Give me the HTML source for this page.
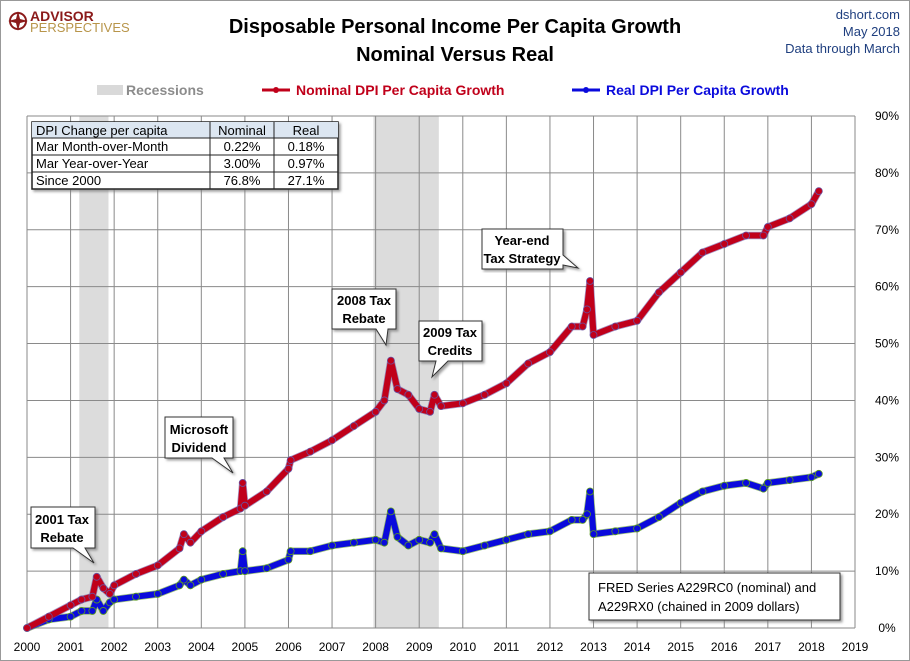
<!DOCTYPE html>
<html><head><meta charset="utf-8"><style>
body{margin:0;background:#fff;font-family:"Liberation Sans",sans-serif}
#wrap{position:relative;width:908px;height:659px;border:1px solid #999;overflow:hidden}
svg text{font-family:"Liberation Sans",sans-serif}
</style></head><body>
<div id="wrap">
<svg id="chart" width="908" height="659"></svg>
</div>
<script>
const years=[2000,2001,2002,2003,2004,2005,2006,2007,2008,2009,2010,2011,2012,2013,2014,2015,2016,2017,2018,2019];
const yTicks=[0,10,20,30,40,50,60,70,80,90];
const recessions=[[2001.2,2001.87],[2007.95,2009.45]];
const dates=[2000,2000.5,2001,2001.25,2001.5,2001.6,2001.75,2001.9,2002,2002.5,2003,2003.5,2003.6,2003.75,2004,2004.5,2004.9,2004.95,2005,2005.5,2006,2006.05,2006.5,2007,2007.5,2008,2008.2,2008.35,2008.5,2008.75,2009,2009.25,2009.35,2009.5,2010,2010.5,2011,2011.5,2012,2012.5,2012.75,2012.85,2012.92,2013,2013.5,2014,2014.5,2015,2015.5,2016,2016.5,2016.9,2017,2017.5,2018,2018.17];
const nominal=[0,2,4,5,5.5,9,7,6,7.5,9.5,11,14,16.5,15,17,19.5,21,25.5,21.5,24,28,29.5,31,33,35.5,38,40,47,42,41,38.5,38,41,39,39.5,41,43,46.5,48.5,53,53,56,61,51.5,53,54,59,62.5,66,67.5,69,69,70.5,72,74.5,76.8];
const real=[0,1.5,2,3,3,5,3,4.5,5,5.5,6,7.5,8.5,7.5,8.5,9.5,10,13.5,10,10.5,12,13.5,13.5,14.5,15,15.5,15,20.5,16,14.5,15.5,15,16.5,14,13.5,14.5,15.5,16.5,17,19,19,20,24,16.5,17,17.5,19.5,22,24,25,25.5,24.5,25.5,26,26.5,27.1];
const X0=26,X1=854,Y0=627,Y90=115;
const xs=d=>X0+(d-2000)*(X1-X0)/19;
const ys=v=>Y0-v*(Y0-Y90)/90;
const S='http://www.w3.org/2000/svg',svg=document.getElementById('chart');
function el(t,a,p){const e=document.createElementNS(S,t);for(const k in a)e.setAttribute(k,a[k]);(p||svg).appendChild(e);return e;}
function txt(s,a){const e=el('text',a);e.textContent=s;return e;}
recessions.forEach(r=>{const e=el('rect',{x:xs(r[0]),y:Y90,width:xs(r[1])-xs(r[0]),height:Y0-Y90,fill:'#dcdcdc'});

});
years.forEach(y=>{const l=el('line',{x1:xs(y),x2:xs(y),y1:Y90,y2:Y0,stroke:'#8a8a8a','stroke-width':1});


const t=txt(String(y),{x:xs(y),y:650,'font-size':12,'text-anchor':'middle',fill:'#000'});

});
yTicks.forEach(v=>{const l=el('line',{x1:X0,x2:X1,y1:ys(v),y2:ys(v),stroke:'#8a8a8a','stroke-width':1});


const t=txt(v+'%',{x:886,y:ys(v)+4,'font-size':12,'text-anchor':'middle',fill:'#000'});

});
function series(vals,color,edge,name){
 const pts=dates.map((d,i)=>xs(d)+','+ys(vals[i])).join(' ');
 const sh=el('polyline',{points:pts,fill:'none',stroke:edge,'stroke-width':7.5,'stroke-linejoin':'round','stroke-linecap':'round',opacity:0.6});
 
 
 const pl=el('polyline',{points:pts,fill:'none',stroke:color,'stroke-width':6,'stroke-linejoin':'round','stroke-linecap':'round'});
 
 
 dates.forEach((d,i)=>{const c=el('circle',{cx:xs(d),cy:ys(vals[i]),r:3.5,fill:color,stroke:edge,'stroke-width':0.8});
 
 });
}
series(real,'#0a0adc','#5a9a20','real');
series(nominal,'#c0001a','#6a50a0','nominal');
</script>
<svg width="908" height="659" style="position:absolute;left:0;top:0;pointer-events:none">
<defs><filter id="sh"><feDropShadow dx="2" dy="2" stdDeviation="1.2" flood-color="#777" flood-opacity="0.7"/></filter></defs>
<g>
<circle cx="18" cy="21" r="8" fill="none" stroke="#8b1a1a" stroke-width="2"/>
<path d="M18 11 L20 19 L28 21 L20 23 L18 31 L16 23 L8 21 L16 19Z" fill="#8b1a1a"/>
<text x="30" y="21" font-size="14" font-weight="bold" fill="#8b1a1a">ADVISOR</text>
<text x="30" y="32" font-size="13" fill="#b8954a">PERSPECTIVES</text>
</g>
<text x="455" y="33" font-size="20" font-weight="bold" text-anchor="middle">Disposable Personal Income Per Capita Growth</text>
<text x="455" y="61" font-size="20" font-weight="bold" text-anchor="middle">Nominal Versus Real</text>
<text x="900" y="19" font-size="13" text-anchor="end" fill="#1f3f7f">dshort.com</text>
<text x="900" y="36" font-size="13" text-anchor="end" fill="#1f3f7f">May 2018</text>
<text x="900" y="53" font-size="13" text-anchor="end" fill="#1f3f7f">Data through March</text>
<g>
<rect x="97" y="85" width="26" height="10" fill="#d9d9d9"/>
<text x="126" y="95" font-size="14" font-weight="bold" fill="#8c8c8c">Recessions</text>
<line x1="262" y1="90" x2="290" y2="90" stroke="#c0001a" stroke-width="3"/><circle cx="276" cy="90" r="3" fill="#c0001a"/>
<text x="296" y="95" font-size="14" font-weight="bold" fill="#c0001a">Nominal DPI Per Capita Growth</text>
<line x1="572" y1="90" x2="600" y2="90" stroke="#0a0adc" stroke-width="3"/><circle cx="586" cy="90" r="3" fill="#0a0adc"/>
<text x="606" y="95" font-size="14" font-weight="bold" fill="#0a0adc">Real DPI Per Capita Growth</text>
</g>
<g font-size="13">
<rect x="32" y="122" width="306" height="67" fill="#fff" stroke="#222" stroke-width="1.5" filter="url(#sh)"/>
<rect x="32" y="122" width="306" height="16" fill="#dce6f1"/>
<line x1="32" y1="138" x2="338" y2="138" stroke="#222"/><line x1="32" y1="155" x2="338" y2="155" stroke="#222"/><line x1="32" y1="172" x2="338" y2="172" stroke="#222"/>
<line x1="210" y1="122" x2="210" y2="189" stroke="#222"/><line x1="274" y1="122" x2="274" y2="189" stroke="#222"/>
<text x="36" y="135">DPI Change per capita</text><text x="242" y="135" text-anchor="middle">Nominal</text><text x="306" y="135" text-anchor="middle">Real</text>
<text x="36" y="151">Mar Month-over-Month</text><text x="242" y="151" text-anchor="middle">0.22%</text><text x="306" y="151" text-anchor="middle">0.18%</text>
<text x="36" y="168">Mar Year-over-Year</text><text x="242" y="168" text-anchor="middle">3.00%</text><text x="306" y="168" text-anchor="middle">0.97%</text>
<text x="36" y="185">Since 2000</text><text x="242" y="185" text-anchor="middle">76.8%</text><text x="306" y="185" text-anchor="middle">27.1%</text>
</g>
<g font-size="13" font-weight="bold" text-anchor="middle">
<g><path d="M31 507 H95 V548 H85 L94 563 L73 548 H31Z" fill="#fff" stroke="#333" filter="url(#sh)"/><text x="62" y="524">2001 Tax</text><text x="62" y="542">Rebate</text></g>
<g><path d="M165 417 H233 V458 H224 L233 473 L212 458 H165Z" fill="#fff" stroke="#333" filter="url(#sh)"/><text x="199" y="434">Microsoft</text><text x="199" y="452">Dividend</text></g>
<g><path d="M332 289 H396 V329 H388 L386 345 L376 329 H332Z" fill="#fff" stroke="#333" filter="url(#sh)"/><text x="364" y="305">2008 Tax</text><text x="364" y="323">Rebate</text></g>
<g><path d="M419 321 H482 V361 H448 L432 377 L436 361 H419Z" fill="#fff" stroke="#333" filter="url(#sh)"/><text x="450" y="337">2009 Tax</text><text x="450" y="355">Credits</text></g>
<g><path d="M482 229 H563 V255 L578 268 L563 265 V269 H482Z" fill="#fff" stroke="#333" filter="url(#sh)"/><text x="522" y="245">Year-end</text><text x="522" y="263">Tax Strategy</text></g>
</g>
<g font-size="13">
<rect x="589" y="573" width="251" height="47" fill="#fff" stroke="#333" filter="url(#sh)"/>
<text x="598" y="592">FRED Series A229RC0 (nominal)  and</text>
<text x="598" y="611">A229RX0 (chained in 2009 dollars)</text>
</g>
</svg>
</body></html>
